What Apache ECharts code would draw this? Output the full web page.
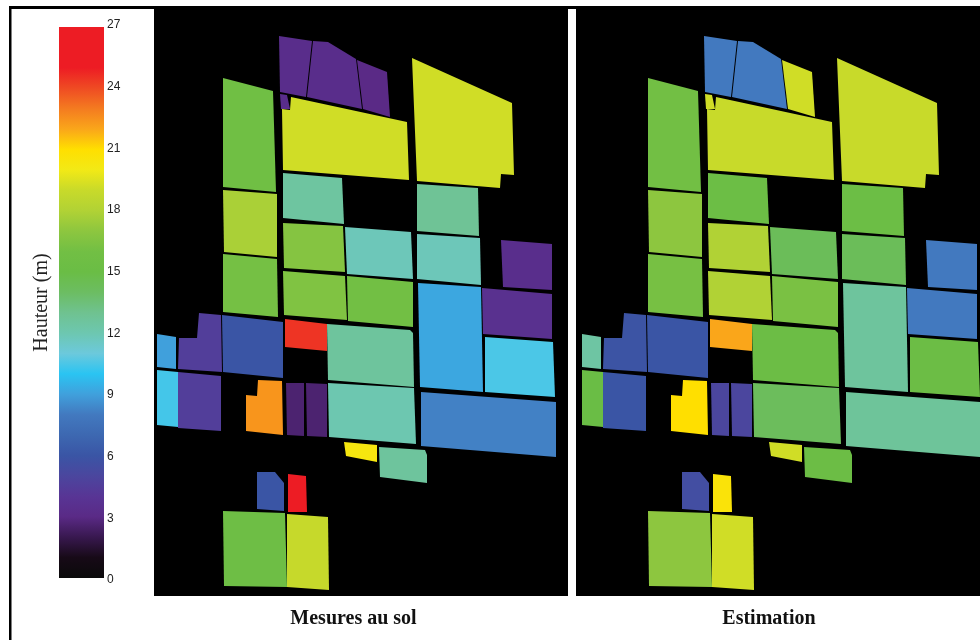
<!DOCTYPE html>
<html><head><meta charset="utf-8">
<style>html,body{margin:0;padding:0;background:#fff}#c{width:980px;height:640px}</style>
<script src="https://cdn.jsdelivr.net/npm/echarts@6/dist/echarts.min.js"></script>
</head><body><div id="c"></div>
<script>
// Height scale, one colour per metre from 0 to 27
const colorScale = ['#0a0a0a','#170a17','#38184f','#5a2a86','#583595','#4b469e','#3a55a5','#3d68b1','#4279bf','#40a0dc','#2ac4f2','#6cc9dc','#6dc7b0','#6fc290','#6cbd62','#6abd45','#72bf44','#8dc63f','#b1d235','#c8da2a','#f2e916','#ffdf00','#faa61a','#f47b20','#ef4b23','#ed1c24','#ed1c24','#ed1c24'];
const heightTicks = [0,3,6,9,12,15,18,21,24,27];
const scaleMax = [27];

// Parcel outlines in field coordinates
const parcels = [
 [[279,36],[312,41],[306,97],[280,92]],
 [[313,41],[328,42],[356,59],[362,109],[307,97]],
 [[357,60],[387,72],[390,117],[363,109]],
 [[280,94],[287,95],[290,109],[281,109]],
 [[291,97],[407,122],[409,180],[283,170],[282,109],[290,110]],
 [[412,58],[512,103],[514,175],[501,174],[500,188],[417,181]],
 [[283,173],[342,178],[344,224],[283,218]],
 [[417,184],[478,188],[479,236],[417,231]],
 [[283,223],[343,226],[345,272],[284,268]],
 [[345,227],[411,232],[413,279],[347,274]],
 [[417,234],[480,238],[481,285],[417,279]],
 [[501,240],[552,244],[552,290],[503,287]],
 [[283,271],[345,276],[347,320],[284,315]],
 [[347,276],[413,282],[413,327],[348,321]],
 [[418,283],[481,287],[483,392],[420,387]],
 [[482,288],[552,294],[552,339],[483,334]],
 [[485,337],[553,342],[555,397],[485,392]],
 [[421,392],[556,402],[556,457],[421,446]],
 [[327,324],[410,330],[413,333],[414,387],[328,380]],
 [[328,383],[414,388],[416,444],[329,437]],
 [[285,319],[327,324],[327,351],[285,347]],
 [[286,383],[304,383],[304,436],[287,435]],
 [[306,383],[327,384],[327,437],[307,436]],
 [[258,380],[282,381],[283,435],[246,431],[246,395],[257,396]],
 [[222,315],[283,322],[283,378],[223,372]],
 [[199,313],[221,315],[222,372],[178,369],[179,338],[197,338]],
 [[157,334],[176,337],[176,369],[157,367]],
 [[157,370],[178,372],[178,427],[157,425]],
 [[178,372],[221,376],[221,431],[178,428]],
 [[344,442],[377,445],[377,462],[346,456]],
 [[379,447],[425,450],[427,455],[427,483],[380,477]],
 [[257,472],[275,472],[284,483],[284,511],[257,509]],
 [[288,474],[306,476],[307,512],[288,512]],
 [[223,511],[285,513],[287,587],[224,586]],
 [[287,514],[328,517],[329,590],[287,587]],
 [[223,78],[273,91],[276,192],[223,187]],
 [[223,190],[277,194],[277,257],[224,252]],
 [[223,254],[277,259],[278,317],[223,312]]
];

// Height (m) of each parcel, same order as the outlines
const groundHeights = [3.3,3.3,3,3.3,19.2,19.2,12.5,12.8,16.7,11.8,11.8,3.4,16.5,16,9.2,3.6,10.5,8.2,12.6,12,24.5,2.6,2.6,22.4,6,4.5,9,10.4,4.5,20.3,12.6,6,25.5,15.5,18.9,15.8,17.8,16.1];
const estimatedHeights = [8,8,19.2,19.2,19,19,15.3,15.3,18,14.3,14.3,8,18,16.3,12.6,8,15.2,12.7,15.2,14.2,22,5,5,21,6,5.9,12.4,15,6,19.2,15.2,5.5,20.6,17,19.2,16,17,16.2];

const panelNames = ['Mesures au sol','Estimation'];
const colorbarName = 'Hauteur (m)';

function series(values, axisIndex) {
  return {
    type: 'custom',
    xAxisIndex: axisIndex, yAxisIndex: axisIndex,
    clip: true, silent: true, animation: false,
    encode: {x: -1, y: -1},
    data: values.map((v, i) => [v, i]),
    renderItem(params, api) {
      const pts = parcels[api.value(1)].map(p => api.coord(p));
      return {type: 'polygon', shape: {points: pts}, style: {fill: api.visual('color')}};
    }
  };
}
const hidden = {axisLine: {show: false}, axisTick: {show: false}, axisLabel: {show: false}, splitLine: {show: false}};
const panelAxisX = (i, min, max, shift) => Object.assign({
  gridIndex: i, type: 'value', min, max, name: panelNames[i], nameLocation: 'middle', nameGap: 13,
  nameTextStyle: {fontFamily: 'Liberation Serif', fontWeight: 'bold', fontSize: 20, color: '#111', padding: [0, shift, 0, 0]}
}, hidden);
const panelAxisY = i => Object.assign({gridIndex: i, type: 'value', min: 6, max: 596, inverse: true}, hidden);

const chart = echarts.init(document.getElementById('c'), null, {renderer: 'canvas'});
chart.setOption({
  animation: false,
  backgroundColor: '#fff',
  grid: [
    {left: 154, top: 6, width: 414, height: 590, show: true, backgroundColor: '#000', borderWidth: 0},
    {left: 576, top: 6, width: 404, height: 590, show: true, backgroundColor: '#000', borderWidth: 0},
    {left: 59, top: 25, width: 45, height: 555},
    {left: 59, top: 27, width: 45, height: 551}
  ],
  xAxis: [
    panelAxisX(0, 154, 568, 15),
    panelAxisX(1, 151, 555, 18),
    {gridIndex: 2, type: 'value', min: 0, max: 1, show: false},
    {gridIndex: 3, type: 'category', data: [''], show: false}
  ],
  yAxis: [
    panelAxisY(0), panelAxisY(1),
    {gridIndex: 2, type: 'value', min: 0, max: 27, interval: 3, position: 'right',
     axisLine: {show: false}, axisTick: {show: false}, splitLine: {show: false},
     axisLabel: {margin: 3, fontFamily: 'Liberation Sans', fontSize: 12, color: '#222',
       customValues: heightTicks, formatter: v => String(v)}},
    Object.assign({gridIndex: 2, type: 'value', min: 0, max: 27, position: 'left',
     name: colorbarName, nameLocation: 'middle', nameGap: 7, nameRotate: 90,
     nameTextStyle: {fontFamily: 'Liberation Serif', fontSize: 20, color: '#222'}}, hidden),
    Object.assign({gridIndex: 3, type: 'value', min: 0, max: 27}, hidden)
  ],
  visualMap: {
    type: 'continuous', show: false, min: 0, max: 27, dimension: 0, seriesIndex: [0, 1],
    inRange: {color: colorScale}
  },
  series: [
    series(groundHeights, 0),
    series(estimatedHeights, 1),
    {type: 'bar', xAxisIndex: 3, yAxisIndex: 4, barWidth: '100%', silent: true, data: scaleMax,
     itemStyle: {color: new echarts.graphic.LinearGradient(0, 1, 0, 0,
       colorScale.map((c, i) => ({offset: i / (colorScale.length - 1), color: c})))}}
  ],
  graphic: [
    {type: 'rect', z: 100, silent: true, shape: {x: 9, y: 6, width: 971, height: 3}, style: {fill: '#000'}},
    {type: 'rect', z: 100, silent: true, shape: {x: 9, y: 6, width: 2.5, height: 634}, style: {fill: '#000'}}
  ]
});
</script></body></html>
